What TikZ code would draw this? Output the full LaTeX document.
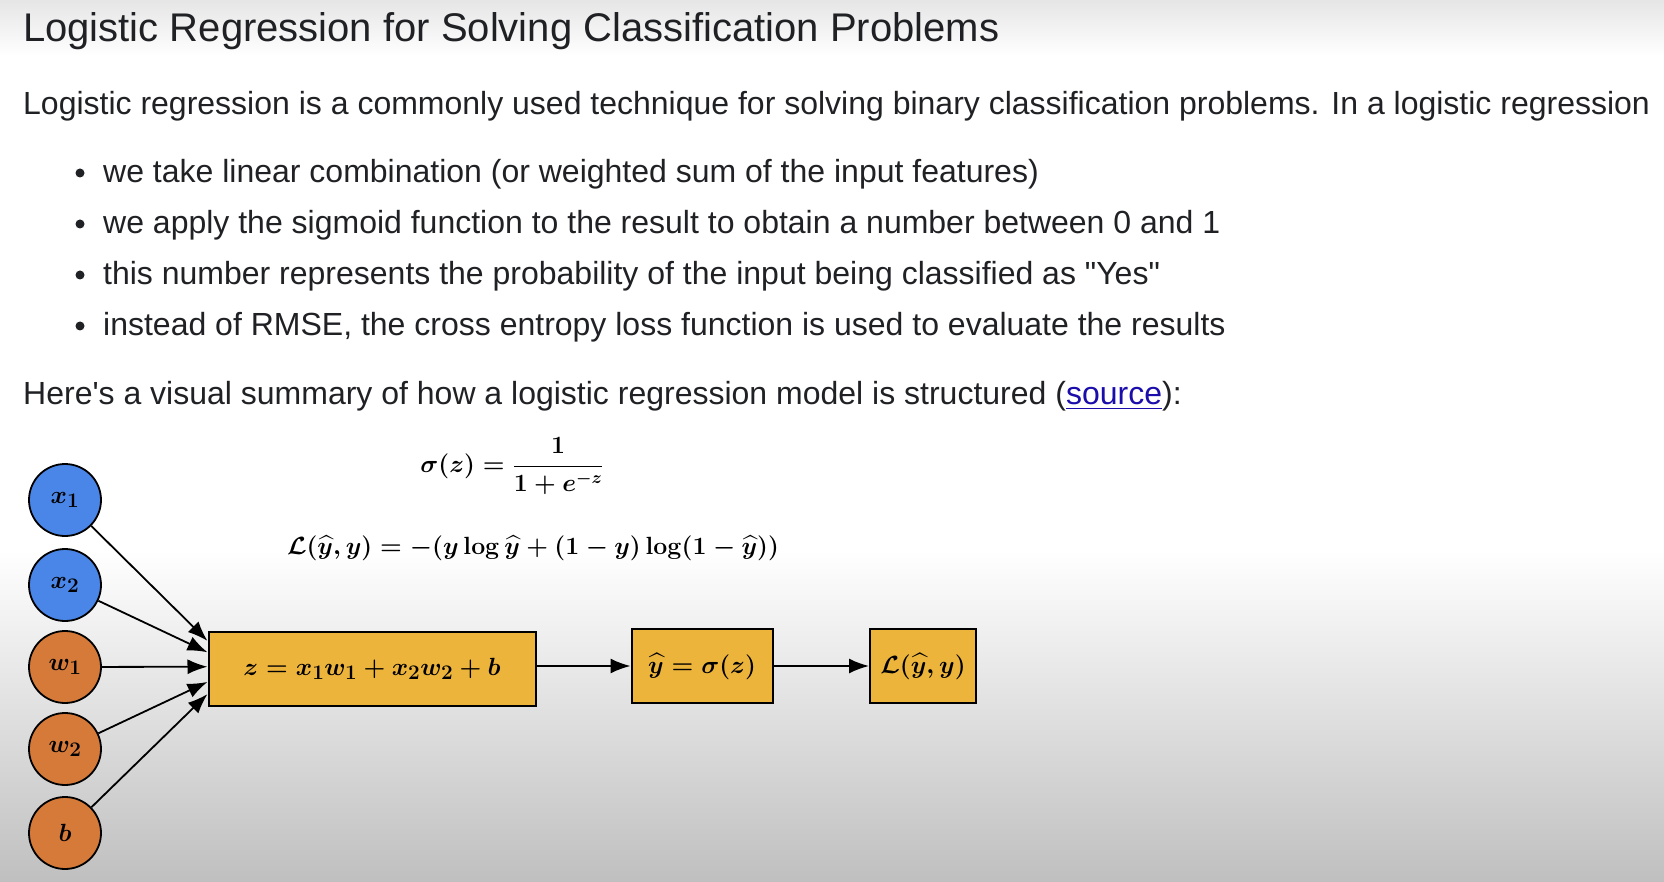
\documentclass[tikz,border=0pt]{standalone}
\usepackage{amsmath,amssymb,bm}
\usepackage[no-math]{fontspec}
\setmainfont{Liberation Sans}[Ligatures=TeXOff]
\usepackage{xcolor}
\definecolor{inblue}{RGB}{74,134,232}
\definecolor{inorange}{RGB}{214,122,58}
\definecolor{boxgold}{RGB}{237,180,60}
\definecolor{txtgray}{RGB}{32,33,36}
\definecolor{linkblue}{RGB}{26,13,171}
\usepackage{tikz}
\usetikzlibrary{arrows.meta,positioning,calc}

\begin{document}
\begin{tikzpicture}[x=1pt, y=-1pt,
    para/.style={anchor=base west, inner sep=0pt, text=txtgray,
                 font=\fontsize{32}{36}\selectfont},
    ttl/.style={anchor=base west, inner sep=0pt, text=txtgray,
                font=\fontsize{40}{44}\selectfont},
    dot/.style={circle, fill=txtgray, inner sep=0pt, minimum size=9pt},
    inp/.style={circle, draw=black, line width=1.8pt,
                minimum size=72pt, inner sep=0pt,
                font=\fontsize{28}{32}\selectfont\boldmath},
    blk/.style={rectangle, draw=black, line width=2pt, fill=boxgold,
                minimum height=74pt, inner sep=0pt,
                font=\fontsize{28}{32}\selectfont\boldmath},
    frm/.style={inner sep=0pt, font=\fontsize{26}{30}\selectfont\boldmath},
    arr/.style={-{Latex[length=20pt,width=15pt]}, line width=1.8pt, black},
  ]
    % background
    \useasboundingbox (0,0) rectangle (1664,882);
    \fill[white] (0,0) rectangle (1664,882);
    \shade[top color=black!10, bottom color=white] (0,0) rectangle (1664,56);
    \shade[top color=white, bottom color=black!25] (0,550) rectangle (1664,882);

    % text
    \node[ttl] (title) at (23,42) {Logistic Regression for Solving Classification Problems};
    \node[para] (intro) at (23,115) {Logistic regression is a commonly used technique for solving binary classification problems. In a logistic regression};
    \foreach \y/\t [count=\i] in {
        183/{we take linear combination (or weighted sum of the input features)},
        234/{we apply the sigmoid function to the result to obtain a number between 0 and 1},
        285/{this number represents the probability of the input being classified as "Yes"},
        336/{instead of RMSE, the cross entropy loss function is used to evaluate the results}} {
      \node[dot] (b\i) at (80,\y-10) {};
      \node[para] (item\i) at (103,\y) {\t};
    }
    \node[para] (summ) at (23,404) {Here's a visual summary of how a logistic regression model is structured (\textcolor{linkblue}{\underline{source}}):};

    % formulas
    \node[frm] (sig) at (512,466) {$\sigma(z)=\dfrac{1}{1+e^{-z}}$};
    \node[frm] (loss) at (533,548) {$\mathcal{L}(\widehat{y},y)=-(y\log\widehat{y}+(1-y)\log(1-\widehat{y}))$};

    % inputs
    \node[inp, fill=inblue] (x1) at (65,500) {$x_1$};
    \node[inp, fill=inblue] (x2) at (65,585) {$x_2$};
    \node[inp, fill=inorange] (w1) at (65,667) {$w_1$};
    \node[inp, fill=inorange] (w2) at (65,749) {$w_2$};
    \node[inp, fill=inorange] (bb) at (65,833) {$b$};

    % boxes
    \node[blk, minimum width=327pt] (lin) at (372,669) {$z=x_1w_1+x_2w_2+b$};
    \node[blk, minimum width=141pt] (act) at (702,666) {$\widehat{y}=\sigma(z)$};
    \node[blk, minimum width=106pt] (lss) at (923,666) {$\mathcal{L}(\widehat{y},y)$};

    \draw[arr] (x1) -- ($(lin.north west)!0.13!(lin.south west)$);
    \draw[arr] (x2) -- ($(lin.north west)!0.28!(lin.south west)$);
    \draw[arr] (w1) -- ($(lin.north west)!0.47!(lin.south west)$);
    \draw[arr] (w2) -- ($(lin.north west)!0.67!(lin.south west)$);
    \draw[arr] (bb) -- ($(lin.north west)!0.83!(lin.south west)$);
    \draw[arr] (lin.east |- act) -- (act);
    \draw[arr] (act) -- (lss);
  \end{tikzpicture}
\end{document}
